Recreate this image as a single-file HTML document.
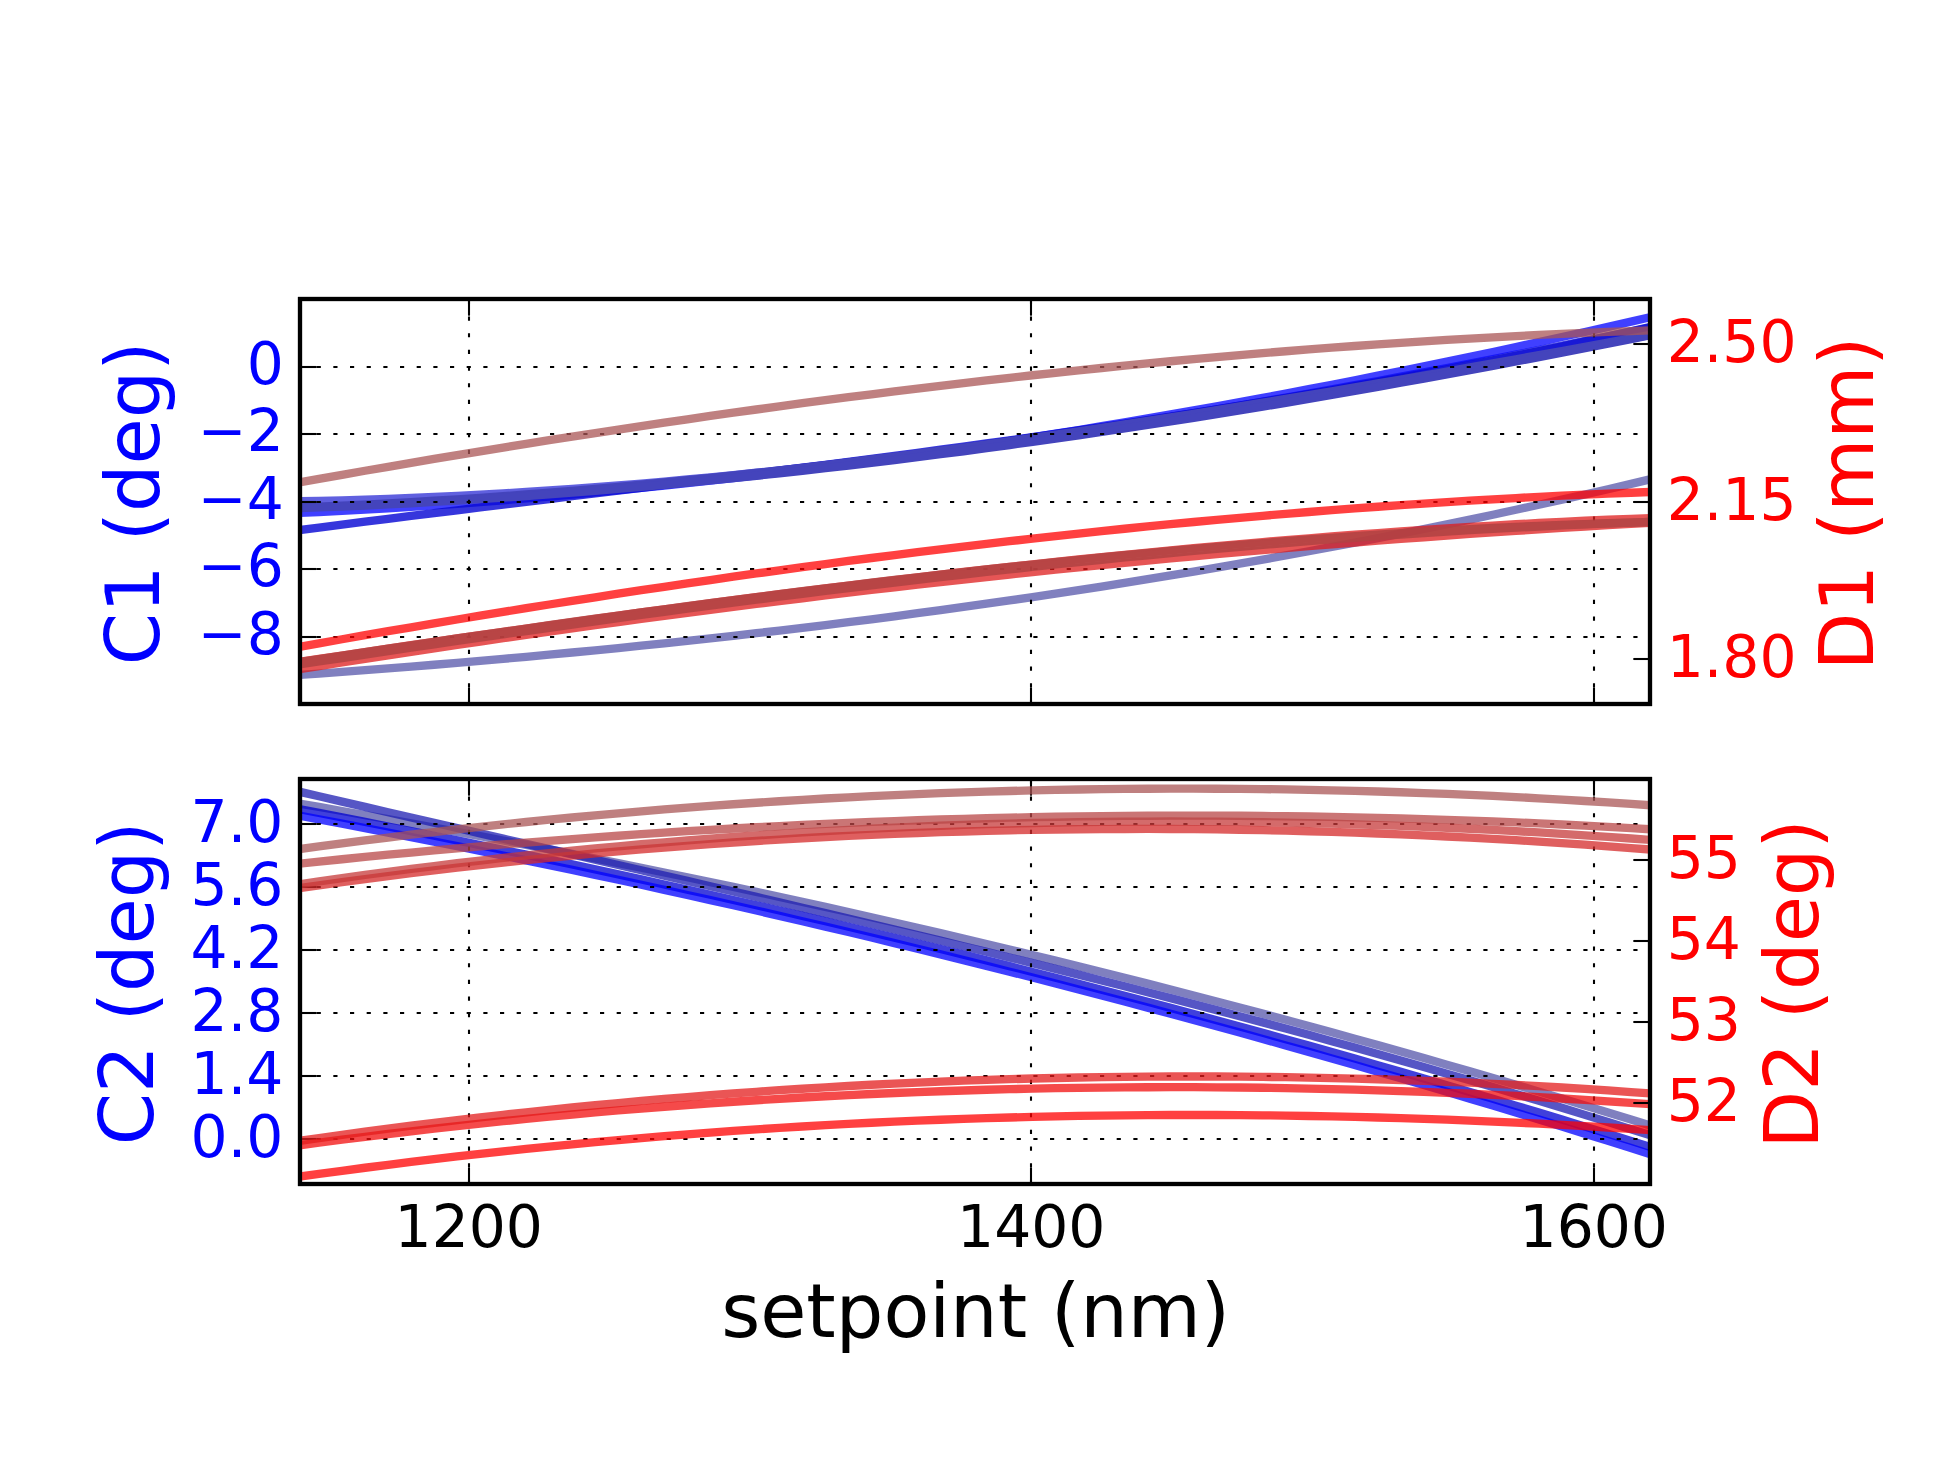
<!DOCTYPE html>
<html><head><meta charset="utf-8"><title>setpoint plot</title><style>html,body{margin:0;padding:0;background:#fff;}svg{display:block;}</style></head><body>
<svg width="1950" height="1484" viewBox="0 0 1950 1484">
<defs><clipPath id="ct"><rect x="300.00" y="299.00" width="1350.00" height="405.00"/></clipPath><clipPath id="cb"><rect x="300.00" y="779.00" width="1350.00" height="405.00"/></clipPath></defs>
<rect width="1950" height="1484" fill="#fff"/>
<g clip-path="url(#ct)" fill="none" stroke-width="8.333" stroke-linejoin="round">
<path d="M296.00,501.30 L319.02,500.86 L342.03,500.31 L365.05,499.65 L388.07,498.88 L411.08,498.00 L434.10,497.02 L457.12,495.93 L480.14,494.73 L503.15,493.43 L526.17,492.03 L549.19,490.53 L572.20,488.93 L595.22,487.23 L618.24,485.44 L641.25,483.55 L664.27,481.56 L687.29,479.49 L710.31,477.32 L733.32,475.07 L756.34,472.72 L779.36,470.29 L802.37,467.77 L825.39,465.17 L848.41,462.49 L871.42,459.72 L894.44,456.88 L917.46,453.95 L940.47,450.95 L963.49,447.87 L986.51,444.72 L1009.53,441.50 L1032.54,438.20 L1055.56,434.83 L1078.58,431.39 L1101.59,427.88 L1124.61,424.31 L1147.63,420.67 L1170.64,416.97 L1193.66,413.20 L1216.68,409.37 L1239.69,405.49 L1262.71,401.54 L1285.73,397.54 L1308.75,393.48 L1331.76,389.37 L1354.78,385.20 L1377.80,380.98 L1400.81,376.71 L1423.83,372.39 L1446.85,368.03 L1469.86,363.61 L1492.88,359.15 L1515.90,354.65 L1538.92,350.11 L1561.93,345.52 L1584.95,340.90 L1607.97,336.23 L1630.98,331.53 L1654.00,326.79" stroke="rgb(43,43,212)" stroke-opacity="0.7500"/>
<path d="M296.00,513.03 L319.02,511.97 L342.03,510.82 L365.05,509.59 L388.07,508.26 L411.08,506.84 L434.10,505.33 L457.12,503.74 L480.14,502.06 L503.15,500.29 L526.17,498.44 L549.19,496.50 L572.20,494.48 L595.22,492.37 L618.24,490.19 L641.25,487.91 L664.27,485.56 L687.29,483.13 L710.31,480.61 L733.32,478.02 L756.34,475.35 L779.36,472.60 L802.37,469.77 L825.39,466.86 L848.41,463.88 L871.42,460.82 L894.44,457.69 L917.46,454.48 L940.47,451.20 L963.49,447.84 L986.51,444.41 L1009.53,440.91 L1032.54,437.34 L1055.56,433.70 L1078.58,429.99 L1101.59,426.21 L1124.61,422.36 L1147.63,418.44 L1170.64,414.46 L1193.66,410.41 L1216.68,406.29 L1239.69,402.11 L1262.71,397.86 L1285.73,393.55 L1308.75,389.17 L1331.76,384.73 L1354.78,380.23 L1377.80,375.67 L1400.81,371.05 L1423.83,366.37 L1446.85,361.63 L1469.86,356.82 L1492.88,351.97 L1515.90,347.05 L1538.92,342.08 L1561.93,337.05 L1584.95,331.96 L1607.97,326.82 L1630.98,321.63 L1654.00,316.38" stroke="rgb(0,0,255)" stroke-opacity="0.7500"/>
<path d="M296.00,530.48 L319.02,527.54 L342.03,524.62 L365.05,521.72 L388.07,518.84 L411.08,515.98 L434.10,513.13 L457.12,510.30 L480.14,507.47 L503.15,504.65 L526.17,501.84 L549.19,499.03 L572.20,496.23 L595.22,493.42 L618.24,490.61 L641.25,487.79 L664.27,484.97 L687.29,482.13 L710.31,479.29 L733.32,476.43 L756.34,473.56 L779.36,470.66 L802.37,467.75 L825.39,464.82 L848.41,461.86 L871.42,458.87 L894.44,455.86 L917.46,452.81 L940.47,449.73 L963.49,446.62 L986.51,443.47 L1009.53,440.28 L1032.54,437.04 L1055.56,433.77 L1078.58,430.44 L1101.59,427.07 L1124.61,423.65 L1147.63,420.18 L1170.64,416.65 L1193.66,413.06 L1216.68,409.42 L1239.69,405.71 L1262.71,401.95 L1285.73,398.11 L1308.75,394.21 L1331.76,390.24 L1354.78,386.19 L1377.80,382.08 L1400.81,377.88 L1423.83,373.61 L1446.85,369.26 L1469.86,364.82 L1492.88,360.30 L1515.90,355.69 L1538.92,351.00 L1561.93,346.21 L1584.95,341.33 L1607.97,336.35 L1630.98,331.28 L1654.00,326.10" stroke="rgb(10,10,212)" stroke-opacity="0.8200"/>
<g>
<path d="M296.00,507.51 L319.02,506.63 L342.03,505.65 L365.05,504.57 L388.07,503.40 L411.08,502.14 L434.10,500.78 L457.12,499.34 L480.14,497.80 L503.15,496.18 L526.17,494.48 L549.19,492.68 L572.20,490.81 L595.22,488.85 L618.24,486.81 L641.25,484.70 L664.27,482.50 L687.29,480.23 L710.31,477.89 L733.32,475.47 L756.34,472.98 L779.36,470.41 L802.37,467.78 L825.39,465.08 L848.41,462.32 L871.42,459.49 L894.44,456.59 L917.46,453.63 L940.47,450.61 L963.49,447.53 L986.51,444.40 L1009.53,441.20 L1032.54,437.95 L1055.56,434.65 L1078.58,431.29 L1101.59,427.88 L1124.61,424.42 L1147.63,420.91 L1170.64,417.36 L1193.66,413.76 L1216.68,410.11 L1239.69,406.42 L1262.71,402.69 L1285.73,398.92 L1308.75,395.11 L1331.76,391.26 L1354.78,387.38 L1377.80,383.46 L1400.81,379.50 L1423.83,375.52 L1446.85,371.50 L1469.86,367.46 L1492.88,363.38 L1515.90,359.28 L1538.92,355.16 L1561.93,351.01 L1584.95,346.84 L1607.97,342.64 L1630.98,338.43 L1654.00,334.20" stroke="rgb(68,68,188)"/>
<path d="M296.00,508.29 L319.02,507.45 L342.03,506.53 L365.05,505.51 L388.07,504.41 L411.08,503.23 L434.10,501.96 L457.12,500.60 L480.14,499.17 L503.15,497.65 L526.17,496.05 L549.19,494.37 L572.20,492.61 L595.22,490.77 L618.24,488.85 L641.25,486.86 L664.27,484.79 L687.29,482.64 L710.31,480.42 L733.32,478.12 L756.34,475.75 L779.36,473.31 L802.37,470.80 L825.39,468.21 L848.41,465.55 L871.42,462.83 L894.44,460.03 L917.46,457.17 L940.47,454.24 L963.49,451.25 L986.51,448.19 L1009.53,445.06 L1032.54,441.87 L1055.56,438.62 L1078.58,435.30 L1101.59,431.92 L1124.61,428.49 L1147.63,424.99 L1170.64,421.43 L1193.66,417.81 L1216.68,414.14 L1239.69,410.41 L1262.71,406.62 L1285.73,402.78 L1308.75,398.88 L1331.76,394.93 L1354.78,390.93 L1377.80,386.87 L1400.81,382.77 L1423.83,378.61 L1446.85,374.40 L1469.86,370.15 L1492.88,365.84 L1515.90,361.49 L1538.92,357.09 L1561.93,352.64 L1584.95,348.15 L1607.97,343.62 L1630.98,339.04 L1654.00,334.42" stroke="rgb(68,68,188)"/>
</g>
<path d="M296.00,675.23 L319.02,673.60 L342.03,671.92 L365.05,670.20 L388.07,668.43 L411.08,666.62 L434.10,664.76 L457.12,662.84 L480.14,660.88 L503.15,658.87 L526.17,656.81 L549.19,654.69 L572.20,652.52 L595.22,650.30 L618.24,648.03 L641.25,645.70 L664.27,643.32 L687.29,640.88 L710.31,638.38 L733.32,635.83 L756.34,633.21 L779.36,630.54 L802.37,627.81 L825.39,625.02 L848.41,622.17 L871.42,619.26 L894.44,616.28 L917.46,613.24 L940.47,610.14 L963.49,606.98 L986.51,603.74 L1009.53,600.45 L1032.54,597.08 L1055.56,593.65 L1078.58,590.15 L1101.59,586.58 L1124.61,582.94 L1147.63,579.23 L1170.64,575.46 L1193.66,571.60 L1216.68,567.68 L1239.69,563.69 L1262.71,559.62 L1285.73,555.47 L1308.75,551.25 L1331.76,546.96 L1354.78,542.59 L1377.80,538.14 L1400.81,533.61 L1423.83,529.00 L1446.85,524.32 L1469.86,519.55 L1492.88,514.71 L1515.90,509.78 L1538.92,504.77 L1561.93,499.68 L1584.95,494.50 L1607.97,489.24 L1630.98,483.89 L1654.00,478.46" stroke="rgb(85,85,170)" stroke-opacity="0.7500"/>
</g>
<g stroke="#000" stroke-width="2.083" stroke-dasharray="4.167 12.500" fill="none">
<path d="M300.00,367.00 L1650.00,367.00"/>
<path d="M300.00,434.00 L1650.00,434.00"/>
<path d="M300.00,502.00 L1650.00,502.00"/>
<path d="M300.00,569.00 L1650.00,569.00"/>
<path d="M300.00,637.00 L1650.00,637.00"/>
<path d="M469.00,704.00 L469.00,299.00"/>
<path d="M1031.00,704.00 L1031.00,299.00"/>
<path d="M1594.00,704.00 L1594.00,299.00"/>
</g>
<g stroke="#000" stroke-width="2.083" fill="none">
<path d="M300.00,367.00 L316.67,367.00"/>
<path d="M300.00,434.00 L316.67,434.00"/>
<path d="M300.00,502.00 L316.67,502.00"/>
<path d="M300.00,569.00 L316.67,569.00"/>
<path d="M300.00,637.00 L316.67,637.00"/>
<path d="M469.00,704.00 L469.00,687.33"/>
<path d="M469.00,299.00 L469.00,315.67"/>
<path d="M1031.00,704.00 L1031.00,687.33"/>
<path d="M1031.00,299.00 L1031.00,315.67"/>
<path d="M1594.00,704.00 L1594.00,687.33"/>
<path d="M1594.00,299.00 L1594.00,315.67"/>
</g>
<rect x="300.00" y="299.00" width="1350.00" height="405.00" fill="none" stroke="#000" stroke-width="4.167" stroke-linejoin="miter"/>
<g clip-path="url(#ct)" fill="none" stroke-width="8.333" stroke-linejoin="round">
<path d="M296.00,647.41 L319.02,643.30 L342.03,639.23 L365.05,635.20 L388.07,631.22 L411.08,627.27 L434.10,623.37 L457.12,619.51 L480.14,615.69 L503.15,611.92 L526.17,608.19 L549.19,604.51 L572.20,600.87 L595.22,597.28 L618.24,593.74 L641.25,590.24 L664.27,586.79 L687.29,583.39 L710.31,580.04 L733.32,576.74 L756.34,573.49 L779.36,570.28 L802.37,567.14 L825.39,564.04 L848.41,560.99 L871.42,558.00 L894.44,555.06 L917.46,552.18 L940.47,549.35 L963.49,546.58 L986.51,543.86 L1009.53,541.20 L1032.54,538.59 L1055.56,536.05 L1078.58,533.56 L1101.59,531.13 L1124.61,528.75 L1147.63,526.44 L1170.64,524.19 L1193.66,522.00 L1216.68,519.87 L1239.69,517.81 L1262.71,515.80 L1285.73,513.86 L1308.75,511.99 L1331.76,510.18 L1354.78,508.43 L1377.80,506.75 L1400.81,505.13 L1423.83,503.58 L1446.85,502.10 L1469.86,500.68 L1492.88,499.34 L1515.90,498.06 L1538.92,496.85 L1561.93,495.71 L1584.95,494.65 L1607.97,493.65 L1630.98,492.73 L1654.00,491.87" stroke="rgb(255,0,0)" stroke-opacity="0.7500"/>
<g opacity="0.7500">
<path d="M296.00,662.43 L319.02,658.96 L342.03,655.50 L365.05,652.06 L388.07,648.64 L411.08,645.24 L434.10,641.85 L457.12,638.49 L480.14,635.15 L503.15,631.84 L526.17,628.55 L549.19,625.28 L572.20,622.04 L595.22,618.83 L618.24,615.65 L641.25,612.49 L664.27,609.37 L687.29,606.28 L710.31,603.22 L733.32,600.19 L756.34,597.20 L779.36,594.24 L802.37,591.32 L825.39,588.44 L848.41,585.59 L871.42,582.79 L894.44,580.02 L917.46,577.30 L940.47,574.62 L963.49,571.98 L986.51,569.39 L1009.53,566.84 L1032.54,564.34 L1055.56,561.88 L1078.58,559.48 L1101.59,557.12 L1124.61,554.81 L1147.63,552.56 L1170.64,550.35 L1193.66,548.20 L1216.68,546.11 L1239.69,544.07 L1262.71,542.08 L1285.73,540.16 L1308.75,538.29 L1331.76,536.48 L1354.78,534.73 L1377.80,533.04 L1400.81,531.42 L1423.83,529.85 L1446.85,528.36 L1469.86,526.92 L1492.88,525.56 L1515.90,524.26 L1538.92,523.03 L1561.93,521.87 L1584.95,520.78 L1607.97,519.76 L1630.98,518.81 L1654.00,517.93" stroke="rgb(222,29,29)"/>
<path d="M296.00,669.68 L319.02,666.04 L342.03,662.43 L365.05,658.85 L388.07,655.32 L411.08,651.82 L434.10,648.36 L457.12,644.94 L480.14,641.56 L503.15,638.21 L526.17,634.90 L549.19,631.63 L572.20,628.40 L595.22,625.21 L618.24,622.06 L641.25,618.94 L664.27,615.87 L687.29,612.83 L710.31,609.83 L733.32,606.88 L756.34,603.96 L779.36,601.08 L802.37,598.24 L825.39,595.45 L848.41,592.69 L871.42,589.97 L894.44,587.29 L917.46,584.66 L940.47,582.06 L963.49,579.51 L986.51,576.99 L1009.53,574.52 L1032.54,572.09 L1055.56,569.70 L1078.58,567.35 L1101.59,565.05 L1124.61,562.78 L1147.63,560.56 L1170.64,558.38 L1193.66,556.24 L1216.68,554.15 L1239.69,552.10 L1262.71,550.09 L1285.73,548.12 L1308.75,546.20 L1331.76,544.32 L1354.78,542.48 L1377.80,540.69 L1400.81,538.94 L1423.83,537.24 L1446.85,535.57 L1469.86,533.96 L1492.88,532.38 L1515.90,530.86 L1538.92,529.37 L1561.93,527.93 L1584.95,526.54 L1607.97,525.19 L1630.98,523.88 L1654.00,522.63" stroke="rgb(222,29,29)"/>
</g>
<g opacity="0.8500">
<path d="M296.00,662.50 L319.02,659.02 L342.03,655.55 L365.05,652.10 L388.07,648.66 L411.08,645.25 L434.10,641.85 L457.12,638.48 L480.14,635.13 L503.15,631.80 L526.17,628.50 L549.19,625.22 L572.20,621.97 L595.22,618.75 L618.24,615.56 L641.25,612.40 L664.27,609.27 L687.29,606.17 L710.31,603.11 L733.32,600.08 L756.34,597.10 L779.36,594.14 L802.37,591.23 L825.39,588.36 L848.41,585.53 L871.42,582.75 L894.44,580.00 L917.46,577.30 L940.47,574.65 L963.49,572.05 L986.51,569.49 L1009.53,566.99 L1032.54,564.53 L1055.56,562.13 L1078.58,559.78 L1101.59,557.49 L1124.61,555.25 L1147.63,553.07 L1170.64,550.95 L1193.66,548.88 L1216.68,546.88 L1239.69,544.94 L1262.71,543.06 L1285.73,541.25 L1308.75,539.50 L1331.76,537.82 L1354.78,536.20 L1377.80,534.66 L1400.81,533.18 L1423.83,531.78 L1446.85,530.45 L1469.86,529.19 L1492.88,528.01 L1515.90,526.90 L1538.92,525.87 L1561.93,524.92 L1584.95,524.05 L1607.97,523.26 L1630.98,522.55 L1654.00,521.92" stroke="rgb(177,67,67)"/>
<path d="M296.00,664.96 L319.02,661.48 L342.03,658.02 L365.05,654.57 L388.07,651.15 L411.08,647.74 L434.10,644.35 L457.12,640.99 L480.14,637.64 L503.15,634.33 L526.17,631.03 L549.19,627.76 L572.20,624.52 L595.22,621.30 L618.24,618.12 L641.25,614.96 L664.27,611.83 L687.29,608.74 L710.31,605.68 L733.32,602.65 L756.34,599.66 L779.36,596.71 L802.37,593.79 L825.39,590.91 L848.41,588.07 L871.42,585.27 L894.44,582.52 L917.46,579.80 L940.47,577.13 L963.49,574.50 L986.51,571.92 L1009.53,569.39 L1032.54,566.90 L1055.56,564.47 L1078.58,562.08 L1101.59,559.74 L1124.61,557.46 L1147.63,555.23 L1170.64,553.06 L1193.66,550.94 L1216.68,548.87 L1239.69,546.86 L1262.71,544.92 L1285.73,543.03 L1308.75,541.20 L1331.76,539.44 L1354.78,537.73 L1377.80,536.09 L1400.81,534.52 L1423.83,533.01 L1446.85,531.57 L1469.86,530.20 L1492.88,528.90 L1515.90,527.66 L1538.92,526.50 L1561.93,525.41 L1584.95,524.39 L1607.97,523.45 L1630.98,522.59 L1654.00,521.80" stroke="rgb(177,67,67)"/>
</g>
<path d="M296.00,482.97 L319.02,478.86 L342.03,474.79 L365.05,470.76 L388.07,466.78 L411.08,462.84 L434.10,458.95 L457.12,455.10 L480.14,451.30 L503.15,447.55 L526.17,443.84 L549.19,440.19 L572.20,436.58 L595.22,433.02 L618.24,429.51 L641.25,426.04 L664.27,422.63 L687.29,419.27 L710.31,415.96 L733.32,412.70 L756.34,409.50 L779.36,406.34 L802.37,403.24 L825.39,400.20 L848.41,397.20 L871.42,394.26 L894.44,391.38 L917.46,388.55 L940.47,385.78 L963.49,383.07 L986.51,380.41 L1009.53,377.81 L1032.54,375.26 L1055.56,372.78 L1078.58,370.35 L1101.59,367.99 L1124.61,365.68 L1147.63,363.44 L1170.64,361.25 L1193.66,359.13 L1216.68,357.06 L1239.69,355.06 L1262.71,353.13 L1285.73,351.25 L1308.75,349.44 L1331.76,347.70 L1354.78,346.02 L1377.80,344.40 L1400.81,342.85 L1423.83,341.37 L1446.85,339.95 L1469.86,338.60 L1492.88,337.32 L1515.90,336.10 L1538.92,334.96 L1561.93,333.88 L1584.95,332.88 L1607.97,331.94 L1630.98,331.07 L1654.00,330.28" stroke="rgb(170,85,85)" stroke-opacity="0.7500"/>
</g>
<g stroke="#000" stroke-width="2.083" fill="none">
<path d="M1650.00,344.00 L1633.33,344.00"/>
<path d="M1650.00,502.00 L1633.33,502.00"/>
<path d="M1650.00,659.00 L1633.33,659.00"/>
</g>
<rect x="300.00" y="299.00" width="1350.00" height="405.00" fill="none" stroke="#000" stroke-width="4.167" stroke-linejoin="miter"/>
<g clip-path="url(#cb)" fill="none" stroke-width="8.333" stroke-linejoin="round">
<path d="M296.00,802.96 L319.02,806.95 L342.03,810.98 L365.05,815.06 L388.07,819.18 L411.08,823.36 L434.10,827.58 L457.12,831.85 L480.14,836.17 L503.15,840.53 L526.17,844.95 L549.19,849.41 L572.20,853.93 L595.22,858.49 L618.24,863.11 L641.25,867.77 L664.27,872.48 L687.29,877.25 L710.31,882.07 L733.32,886.93 L756.34,891.85 L779.36,896.83 L802.37,901.85 L825.39,906.92 L848.41,912.05 L871.42,917.23 L894.44,922.47 L917.46,927.76 L940.47,933.10 L963.49,938.49 L986.51,943.94 L1009.53,949.44 L1032.54,955.00 L1055.56,960.61 L1078.58,966.28 L1101.59,972.01 L1124.61,977.79 L1147.63,983.62 L1170.64,989.51 L1193.66,995.46 L1216.68,1001.46 L1239.69,1007.53 L1262.71,1013.64 L1285.73,1019.82 L1308.75,1026.05 L1331.76,1032.34 L1354.78,1038.69 L1377.80,1045.10 L1400.81,1051.57 L1423.83,1058.10 L1446.85,1064.68 L1469.86,1071.33 L1492.88,1078.03 L1515.90,1084.80 L1538.92,1091.62 L1561.93,1098.51 L1584.95,1105.45 L1607.97,1112.46 L1630.98,1119.53 L1654.00,1126.66" stroke="rgb(85,85,170)" stroke-opacity="0.7500"/>
<path d="M296.00,790.96 L319.02,796.29 L342.03,801.60 L365.05,806.91 L388.07,812.20 L411.08,817.49 L434.10,822.77 L457.12,828.05 L480.14,833.32 L503.15,838.59 L526.17,843.86 L549.19,849.13 L572.20,854.41 L595.22,859.69 L618.24,864.97 L641.25,870.27 L664.27,875.57 L687.29,880.89 L710.31,886.22 L733.32,891.56 L756.34,896.92 L779.36,902.30 L802.37,907.70 L825.39,913.12 L848.41,918.56 L871.42,924.03 L894.44,929.53 L917.46,935.05 L940.47,940.60 L963.49,946.19 L986.51,951.80 L1009.53,957.46 L1032.54,963.14 L1055.56,968.87 L1078.58,974.63 L1101.59,980.44 L1124.61,986.29 L1147.63,992.19 L1170.64,998.13 L1193.66,1004.12 L1216.68,1010.15 L1239.69,1016.24 L1262.71,1022.39 L1285.73,1028.58 L1308.75,1034.84 L1331.76,1041.15 L1354.78,1047.52 L1377.80,1053.95 L1400.81,1060.44 L1423.83,1067.00 L1446.85,1073.63 L1469.86,1080.32 L1492.88,1087.08 L1515.90,1093.92 L1538.92,1100.82 L1561.93,1107.80 L1584.95,1114.86 L1607.97,1122.00 L1630.98,1129.21 L1654.00,1136.50" stroke="rgb(30,30,178)" stroke-opacity="0.7500"/>
<path d="M296.00,808.54 L319.02,812.96 L342.03,817.43 L365.05,821.94 L388.07,826.49 L411.08,831.09 L434.10,835.72 L457.12,840.40 L480.14,845.12 L503.15,849.89 L526.17,854.70 L549.19,859.55 L572.20,864.45 L595.22,869.39 L618.24,874.37 L641.25,879.40 L664.27,884.48 L687.29,889.60 L710.31,894.76 L733.32,899.97 L756.34,905.23 L779.36,910.53 L802.37,915.88 L825.39,921.27 L848.41,926.71 L871.42,932.20 L894.44,937.73 L917.46,943.31 L940.47,948.94 L963.49,954.62 L986.51,960.34 L1009.53,966.11 L1032.54,971.93 L1055.56,977.80 L1078.58,983.72 L1101.59,989.68 L1124.61,995.70 L1147.63,1001.76 L1170.64,1007.88 L1193.66,1014.04 L1216.68,1020.25 L1239.69,1026.51 L1262.71,1032.83 L1285.73,1039.19 L1308.75,1045.61 L1331.76,1052.07 L1354.78,1058.59 L1377.80,1065.16 L1400.81,1071.78 L1423.83,1078.45 L1446.85,1085.17 L1469.86,1091.95 L1492.88,1098.77 L1515.90,1105.65 L1538.92,1112.59 L1561.93,1119.57 L1584.95,1126.61 L1607.97,1133.71 L1630.98,1140.86 L1654.00,1148.06" stroke="rgb(0,0,208)" stroke-opacity="0.7500"/>
<path d="M296.00,815.04 L319.02,819.35 L342.03,823.70 L365.05,828.10 L388.07,832.55 L411.08,837.05 L434.10,841.60 L457.12,846.20 L480.14,850.85 L503.15,855.55 L526.17,860.30 L549.19,865.10 L572.20,869.95 L595.22,874.85 L618.24,879.80 L641.25,884.80 L664.27,889.85 L687.29,894.95 L710.31,900.10 L733.32,905.30 L756.34,910.55 L779.36,915.86 L802.37,921.21 L825.39,926.61 L848.41,932.07 L871.42,937.57 L894.44,943.13 L917.46,948.73 L940.47,954.39 L963.49,960.10 L986.51,965.86 L1009.53,971.67 L1032.54,977.53 L1055.56,983.44 L1078.58,989.41 L1101.59,995.42 L1124.61,1001.49 L1147.63,1007.61 L1170.64,1013.78 L1193.66,1020.00 L1216.68,1026.27 L1239.69,1032.60 L1262.71,1038.97 L1285.73,1045.40 L1308.75,1051.88 L1331.76,1058.41 L1354.78,1064.99 L1377.80,1071.63 L1400.81,1078.32 L1423.83,1085.06 L1446.85,1091.85 L1469.86,1098.69 L1492.88,1105.59 L1515.90,1112.54 L1538.92,1119.54 L1561.93,1126.59 L1584.95,1133.70 L1607.97,1140.86 L1630.98,1148.07 L1654.00,1155.33" stroke="rgb(0,0,255)" stroke-opacity="0.7500"/>
</g>
<g stroke="#000" stroke-width="2.083" stroke-dasharray="4.167 12.500" fill="none">
<path d="M300.00,824.00 L1650.00,824.00"/>
<path d="M300.00,887.00 L1650.00,887.00"/>
<path d="M300.00,950.00 L1650.00,950.00"/>
<path d="M300.00,1013.00 L1650.00,1013.00"/>
<path d="M300.00,1076.00 L1650.00,1076.00"/>
<path d="M300.00,1139.00 L1650.00,1139.00"/>
<path d="M469.00,1184.00 L469.00,779.00"/>
<path d="M1031.00,1184.00 L1031.00,779.00"/>
<path d="M1594.00,1184.00 L1594.00,779.00"/>
</g>
<g stroke="#000" stroke-width="2.083" fill="none">
<path d="M300.00,824.00 L316.67,824.00"/>
<path d="M300.00,887.00 L316.67,887.00"/>
<path d="M300.00,950.00 L316.67,950.00"/>
<path d="M300.00,1013.00 L316.67,1013.00"/>
<path d="M300.00,1076.00 L316.67,1076.00"/>
<path d="M300.00,1139.00 L316.67,1139.00"/>
<path d="M469.00,1184.00 L469.00,1167.33"/>
<path d="M469.00,779.00 L469.00,795.67"/>
<path d="M1031.00,1184.00 L1031.00,1167.33"/>
<path d="M1031.00,779.00 L1031.00,795.67"/>
<path d="M1594.00,1184.00 L1594.00,1167.33"/>
<path d="M1594.00,779.00 L1594.00,795.67"/>
</g>
<rect x="300.00" y="779.00" width="1350.00" height="405.00" fill="none" stroke="#000" stroke-width="4.167" stroke-linejoin="miter"/>
<g clip-path="url(#cb)" fill="none" stroke-width="8.333" stroke-linejoin="round">
<path d="M296.00,1177.13 L319.02,1173.92 L342.03,1170.79 L365.05,1167.75 L388.07,1164.80 L411.08,1161.94 L434.10,1159.16 L457.12,1156.48 L480.14,1153.88 L503.15,1151.36 L526.17,1148.94 L549.19,1146.60 L572.20,1144.34 L595.22,1142.17 L618.24,1140.09 L641.25,1138.09 L664.27,1136.18 L687.29,1134.35 L710.31,1132.61 L733.32,1130.95 L756.34,1129.37 L779.36,1127.88 L802.37,1126.47 L825.39,1125.14 L848.41,1123.90 L871.42,1122.74 L894.44,1121.66 L917.46,1120.66 L940.47,1119.74 L963.49,1118.91 L986.51,1118.16 L1009.53,1117.49 L1032.54,1116.89 L1055.56,1116.38 L1078.58,1115.95 L1101.59,1115.60 L1124.61,1115.33 L1147.63,1115.13 L1170.64,1115.02 L1193.66,1114.98 L1216.68,1115.02 L1239.69,1115.15 L1262.71,1115.34 L1285.73,1115.62 L1308.75,1115.97 L1331.76,1116.40 L1354.78,1116.91 L1377.80,1117.49 L1400.81,1118.15 L1423.83,1118.89 L1446.85,1119.70 L1469.86,1120.58 L1492.88,1121.54 L1515.90,1122.58 L1538.92,1123.69 L1561.93,1124.87 L1584.95,1126.13 L1607.97,1127.47 L1630.98,1128.87 L1654.00,1130.35" stroke="rgb(255,0,0)" stroke-opacity="0.7500"/>
<path d="M296.00,1145.72 L319.02,1142.67 L342.03,1139.69 L365.05,1136.81 L388.07,1134.00 L411.08,1131.27 L434.10,1128.63 L457.12,1126.07 L480.14,1123.60 L503.15,1121.20 L526.17,1118.89 L549.19,1116.66 L572.20,1114.51 L595.22,1112.45 L618.24,1110.46 L641.25,1108.56 L664.27,1106.74 L687.29,1105.00 L710.31,1103.35 L733.32,1101.77 L756.34,1100.27 L779.36,1098.86 L802.37,1097.53 L825.39,1096.28 L848.41,1095.11 L871.42,1094.02 L894.44,1093.01 L917.46,1092.08 L940.47,1091.23 L963.49,1090.47 L986.51,1089.78 L1009.53,1089.17 L1032.54,1088.65 L1055.56,1088.20 L1078.58,1087.83 L1101.59,1087.55 L1124.61,1087.34 L1147.63,1087.22 L1170.64,1087.17 L1193.66,1087.20 L1216.68,1087.31 L1239.69,1087.50 L1262.71,1087.78 L1285.73,1088.13 L1308.75,1088.56 L1331.76,1089.06 L1354.78,1089.65 L1377.80,1090.32 L1400.81,1091.06 L1423.83,1091.89 L1446.85,1092.79 L1469.86,1093.77 L1492.88,1094.83 L1515.90,1095.96 L1538.92,1097.18 L1561.93,1098.47 L1584.95,1099.85 L1607.97,1101.29 L1630.98,1102.82 L1654.00,1104.43" stroke="rgb(241,14,14)" stroke-opacity="0.7500"/>
<path d="M296.00,1141.34 L319.02,1138.05 L342.03,1134.84 L365.05,1131.72 L388.07,1128.69 L411.08,1125.74 L434.10,1122.87 L457.12,1120.10 L480.14,1117.40 L503.15,1114.80 L526.17,1112.28 L549.19,1109.84 L572.20,1107.49 L595.22,1105.23 L618.24,1103.05 L641.25,1100.96 L664.27,1098.96 L687.29,1097.04 L710.31,1095.20 L733.32,1093.45 L756.34,1091.79 L779.36,1090.21 L802.37,1088.72 L825.39,1087.31 L848.41,1085.99 L871.42,1084.76 L894.44,1083.61 L917.46,1082.55 L940.47,1081.57 L963.49,1080.68 L986.51,1079.87 L1009.53,1079.15 L1032.54,1078.52 L1055.56,1077.97 L1078.58,1077.50 L1101.59,1077.13 L1124.61,1076.83 L1147.63,1076.63 L1170.64,1076.50 L1193.66,1076.47 L1216.68,1076.52 L1239.69,1076.65 L1262.71,1076.87 L1285.73,1077.18 L1308.75,1077.57 L1331.76,1078.05 L1354.78,1078.61 L1377.80,1079.26 L1400.81,1080.00 L1423.83,1080.82 L1446.85,1081.72 L1469.86,1082.71 L1492.88,1083.79 L1515.90,1084.95 L1538.92,1086.19 L1561.93,1087.53 L1584.95,1088.94 L1607.97,1090.45 L1630.98,1092.04 L1654.00,1093.71" stroke="rgb(227,28,28)" stroke-opacity="0.7500"/>
<path d="M296.00,888.58 L319.02,885.31 L342.03,882.14 L365.05,879.07 L388.07,876.08 L411.08,873.20 L434.10,870.40 L457.12,867.70 L480.14,865.10 L503.15,862.59 L526.17,860.16 L549.19,857.84 L572.20,855.60 L595.22,853.46 L618.24,851.41 L641.25,849.45 L664.27,847.58 L687.29,845.80 L710.31,844.11 L733.32,842.52 L756.34,841.01 L779.36,839.59 L802.37,838.27 L825.39,837.03 L848.41,835.88 L871.42,834.82 L894.44,833.85 L917.46,832.97 L940.47,832.18 L963.49,831.47 L986.51,830.85 L1009.53,830.32 L1032.54,829.88 L1055.56,829.52 L1078.58,829.25 L1101.59,829.06 L1124.61,828.96 L1147.63,828.95 L1170.64,829.02 L1193.66,829.18 L1216.68,829.43 L1239.69,829.75 L1262.71,830.17 L1285.73,830.66 L1308.75,831.24 L1331.76,831.91 L1354.78,832.65 L1377.80,833.48 L1400.81,834.40 L1423.83,835.39 L1446.85,836.47 L1469.86,837.63 L1492.88,838.87 L1515.90,840.20 L1538.92,841.60 L1561.93,843.09 L1584.95,844.66 L1607.97,846.30 L1630.98,848.03 L1654.00,849.84" stroke="rgb(212,42,42)" stroke-opacity="0.7500"/>
<path d="M296.00,884.67 L319.02,881.33 L342.03,878.08 L365.05,874.92 L388.07,871.86 L411.08,868.89 L434.10,866.02 L457.12,863.23 L480.14,860.54 L503.15,857.94 L526.17,855.43 L549.19,853.02 L572.20,850.69 L595.22,848.46 L618.24,846.32 L641.25,844.26 L664.27,842.30 L687.29,840.43 L710.31,838.65 L733.32,836.95 L756.34,835.35 L779.36,833.84 L802.37,832.41 L825.39,831.08 L848.41,829.83 L871.42,828.67 L894.44,827.60 L917.46,826.62 L940.47,825.72 L963.49,824.91 L986.51,824.19 L1009.53,823.56 L1032.54,823.01 L1055.56,822.55 L1078.58,822.17 L1101.59,821.88 L1124.61,821.68 L1147.63,821.56 L1170.64,821.53 L1193.66,821.59 L1216.68,821.72 L1239.69,821.95 L1262.71,822.25 L1285.73,822.65 L1308.75,823.12 L1331.76,823.68 L1354.78,824.32 L1377.80,825.05 L1400.81,825.86 L1423.83,826.75 L1446.85,827.73 L1469.86,828.78 L1492.88,829.92 L1515.90,831.14 L1538.92,832.45 L1561.93,833.83 L1584.95,835.30 L1607.97,836.84 L1630.98,838.47 L1654.00,840.18" stroke="rgb(198,57,57)" stroke-opacity="0.7500"/>
<path d="M296.00,863.99 L319.02,861.59 L342.03,859.24 L365.05,856.95 L388.07,854.72 L411.08,852.55 L434.10,850.43 L457.12,848.38 L480.14,846.39 L503.15,844.46 L526.17,842.59 L549.19,840.78 L572.20,839.03 L595.22,837.35 L618.24,835.72 L641.25,834.16 L664.27,832.65 L687.29,831.21 L710.31,829.84 L733.32,828.52 L756.34,827.27 L779.36,826.08 L802.37,824.95 L825.39,823.89 L848.41,822.89 L871.42,821.95 L894.44,821.08 L917.46,820.27 L940.47,819.53 L963.49,818.85 L986.51,818.23 L1009.53,817.68 L1032.54,817.20 L1055.56,816.78 L1078.58,816.42 L1101.59,816.13 L1124.61,815.91 L1147.63,815.75 L1170.64,815.66 L1193.66,815.64 L1216.68,815.68 L1239.69,815.79 L1262.71,815.97 L1285.73,816.21 L1308.75,816.53 L1331.76,816.91 L1354.78,817.35 L1377.80,817.87 L1400.81,818.45 L1423.83,819.10 L1446.85,819.83 L1469.86,820.62 L1492.88,821.48 L1515.90,822.40 L1538.92,823.40 L1561.93,824.47 L1584.95,825.61 L1607.97,826.82 L1630.98,828.09 L1654.00,829.44" stroke="rgb(184,71,71)" stroke-opacity="0.7500"/>
<path d="M296.00,849.52 L319.02,846.39 L342.03,843.35 L365.05,840.40 L388.07,837.52 L411.08,834.73 L434.10,832.02 L457.12,829.39 L480.14,826.85 L503.15,824.39 L526.17,822.01 L549.19,819.71 L572.20,817.49 L595.22,815.36 L618.24,813.31 L641.25,811.34 L664.27,809.45 L687.29,807.64 L710.31,805.92 L733.32,804.28 L756.34,802.72 L779.36,801.24 L802.37,799.85 L825.39,798.53 L848.41,797.30 L871.42,796.15 L894.44,795.08 L917.46,794.10 L940.47,793.19 L963.49,792.37 L986.51,791.63 L1009.53,790.97 L1032.54,790.39 L1055.56,789.90 L1078.58,789.48 L1101.59,789.15 L1124.61,788.90 L1147.63,788.73 L1170.64,788.64 L1193.66,788.63 L1216.68,788.71 L1239.69,788.87 L1262.71,789.10 L1285.73,789.42 L1308.75,789.82 L1331.76,790.30 L1354.78,790.87 L1377.80,791.51 L1400.81,792.24 L1423.83,793.05 L1446.85,793.93 L1469.86,794.90 L1492.88,795.95 L1515.90,797.08 L1538.92,798.30 L1561.93,799.59 L1584.95,800.97 L1607.97,802.42 L1630.98,803.96 L1654.00,805.58" stroke="rgb(170,85,85)" stroke-opacity="0.7500"/>
</g>
<g stroke="#000" stroke-width="2.083" fill="none">
<path d="M1650.00,860.00 L1633.33,860.00"/>
<path d="M1650.00,941.00 L1633.33,941.00"/>
<path d="M1650.00,1022.00 L1633.33,1022.00"/>
<path d="M1650.00,1103.00 L1633.33,1103.00"/>
</g>
<rect x="300.00" y="779.00" width="1350.00" height="405.00" fill="none" stroke="#000" stroke-width="4.167" stroke-linejoin="miter"/>
<g font-family="'DejaVu Sans', 'Liberation Sans', sans-serif" font-size="58.333">
<text x="283.83" y="383.50" text-anchor="end" fill="#0000ff">0</text>
<text x="283.83" y="451.00" text-anchor="end" fill="#0000ff">−2</text>
<text x="283.83" y="518.50" text-anchor="end" fill="#0000ff">−4</text>
<text x="283.83" y="586.00" text-anchor="end" fill="#0000ff">−6</text>
<text x="283.83" y="653.50" text-anchor="end" fill="#0000ff">−8</text>
<text x="1666.67" y="362.00" fill="#ff0000">2.50</text>
<text x="1666.67" y="519.50" fill="#ff0000">2.15</text>
<text x="1666.67" y="677.00" fill="#ff0000">1.80</text>
<text x="283.33" y="842.00" text-anchor="end" fill="#0000ff">7.0</text>
<text x="283.33" y="905.00" text-anchor="end" fill="#0000ff">5.6</text>
<text x="283.33" y="968.00" text-anchor="end" fill="#0000ff">4.2</text>
<text x="283.33" y="1031.00" text-anchor="end" fill="#0000ff">2.8</text>
<text x="283.33" y="1094.00" text-anchor="end" fill="#0000ff">1.4</text>
<text x="283.33" y="1157.00" text-anchor="end" fill="#0000ff">0.0</text>
<text x="1666.67" y="878.00" fill="#ff0000">55</text>
<text x="1666.67" y="959.00" fill="#ff0000">54</text>
<text x="1666.67" y="1040.00" fill="#ff0000">53</text>
<text x="1666.67" y="1121.00" fill="#ff0000">52</text>
<text x="468.75" y="1246.50" text-anchor="middle" fill="#000">1200</text>
<text x="1031.25" y="1246.50" text-anchor="middle" fill="#000">1400</text>
<text x="1593.75" y="1246.50" text-anchor="middle" fill="#000">1600</text>
</g>
<g font-family="'DejaVu Sans', 'Liberation Sans', sans-serif" font-size="75.000">
<text x="975.6" y="1336.7" text-anchor="middle" fill="#000">setpoint (nm)</text>
<text transform="translate(159.1,503.40) rotate(-90)" text-anchor="middle" fill="#0000ff">C1 (deg)</text>
<text transform="translate(1872.6,503.40) rotate(-90)" text-anchor="middle" fill="#ff0000">D1 (mm)</text>
<text transform="translate(153.3,983.40) rotate(-90)" text-anchor="middle" fill="#0000ff">C2 (deg)</text>
<text transform="translate(1818,983.90) rotate(-90)" text-anchor="middle" fill="#ff0000">D2 (deg)</text>
</g>
</svg>
</body></html>
